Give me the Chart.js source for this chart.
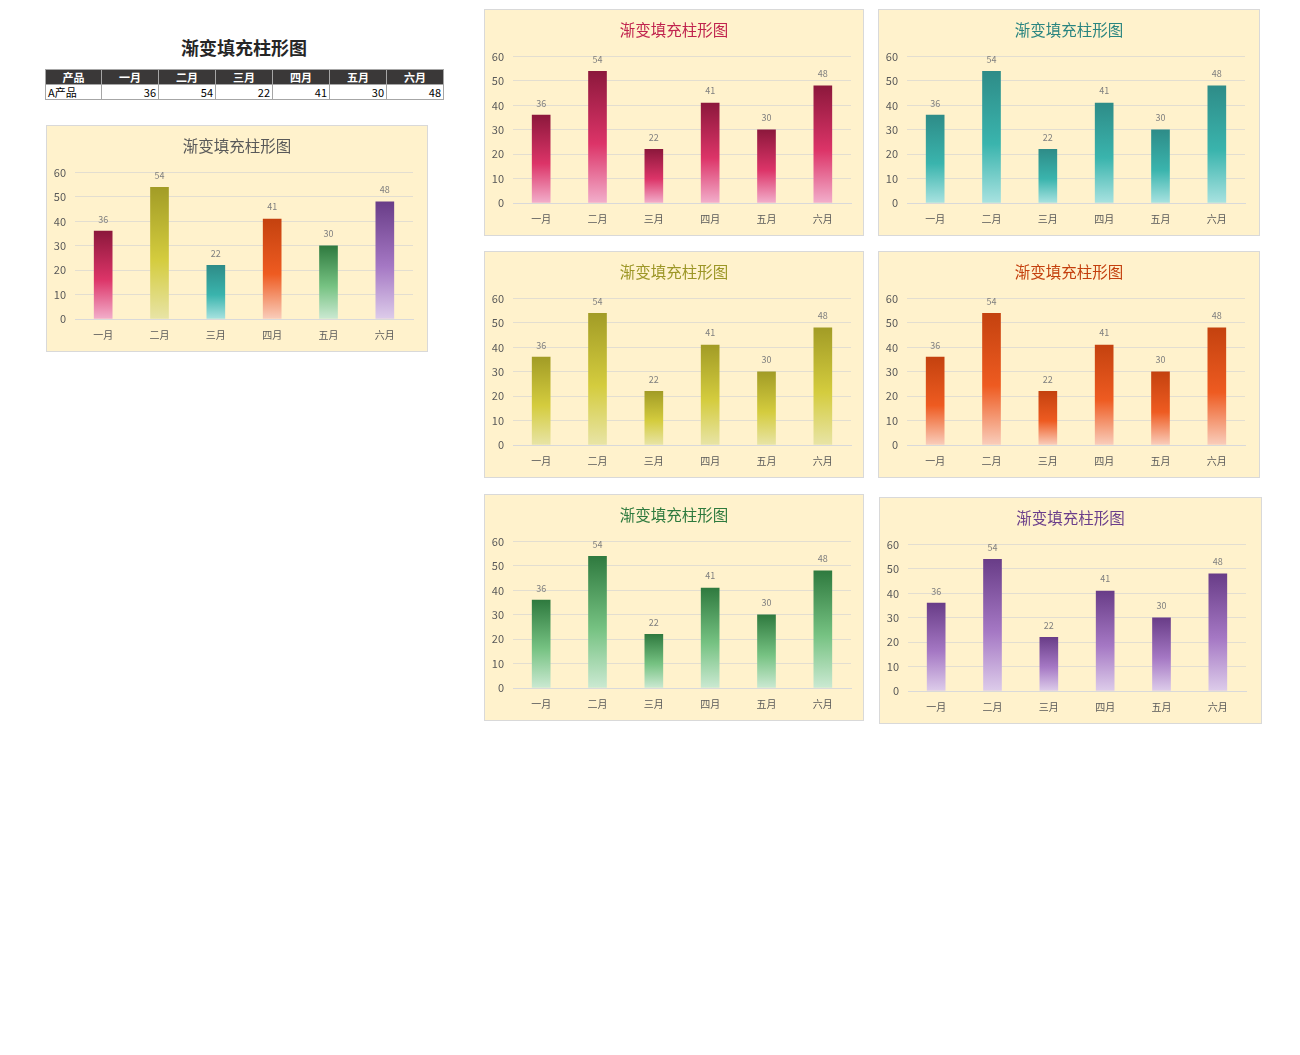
<!DOCTYPE html>
<html>
<head>
<meta charset="utf-8">
<script src="https://cdn.jsdelivr.net/npm/chart.js@4.4.0/dist/chart.umd.min.js"></script>
<style>
  body { margin: 0; background: #fff; font-family: "Noto Sans CJK SC", "Noto Sans", sans-serif; }
  #page { position: relative; width: 1300px; height: 1055px; }
  #mainTitle { position: absolute; left: 44px; width: 400px; top: 34px; text-align: center;
    font-size: 18px; font-weight: bold; color: #262626; }
  table { position: absolute; left: 45px; top: 69px; border-collapse: collapse; font-size: 11px;
    table-layout: fixed; width: 399px; }
  td, th { border: 1px solid #A6A6A6; height: 14px; padding: 0 2px; line-height: 14px; overflow: hidden; }
  th { background: #3A3838; color: #fff; font-weight: bold; text-align: center; }
  td { text-align: right; color: #000; }
  td.first { text-align: left; }
  .box { position: absolute; background: #FFF2CC; border: 1px solid #D9D9D9; }
  .box canvas { display: block; }
</style>
</head>
<body>
<div id="page">
  <div id="mainTitle">渐变填充柱形图</div>
  <table id="tbl"></table>
</div>
<script>
// data
const months = ["一月", "二月", "三月", "四月", "五月", "六月"];
const sales = [36, 54, 22, 41, 30, 48];
const rowName = "A产品";
const headName = "产品";
const chartTitle = "渐变填充柱形图";
const yTicks = [0, 10, 20, 30, 40, 50, 60];

// gradient themes: top, middle, bottom
const themes = {
  crimson: { title: "#C0234E", stops: ["#8C183C", "#DC3468", "#F2AECB"] },
  teal:    { title: "#2A8580", stops: ["#2E8C88", "#3AB4AD", "#A8E2E0"] },
  olive:   { title: "#9C9626", stops: ["#A29C26", "#D4CC3E", "#E8E4A6"] },
  orange:  { title: "#C4400E", stops: ["#C4420F", "#EE5B21", "#F9CDBB"] },
  green:   { title: "#2E7A3E", stops: ["#2F7A3F", "#76C282", "#CBE9D2"] },
  purple:  { title: "#6B3F8B", stops: ["#693D88", "#A578C4", "#DDCCEA"] }
};
const mixedOrder = ["crimson", "olive", "teal", "orange", "green", "purple"];

// table
const tbl = document.getElementById("tbl");
let html = "<colgroup><col style='width:56px'>";
months.forEach(() => html += "<col style='width:57px'>");
html += "</colgroup><tr><th>" + headName + "</th>";
months.forEach(m => html += "<th>" + m + "</th>");
html += "</tr><tr><td class='first'>" + rowName + "</td>";
sales.forEach(v => html += "<td>" + v + "</td>");
html += "</tr>";
tbl.innerHTML = html;

// boxes: left, top, width, height, theme (null = mixed)
const boxes = [
  [46, 125, 382, 227, null],
  [484, 9, 380, 227, "crimson"],
  [878, 9, 382, 227, "teal"],
  [484, 251, 380, 227, "olive"],
  [878, 251, 382, 227, "orange"],
  [484, 494, 380, 227, "green"],
  [879, 497, 383, 227, "purple"]
];

const valueLabels = {
  id: "valueLabels",
  afterDatasetsDraw(chart) {
    const c = chart.ctx;
    const meta = chart.getDatasetMeta(0);
    c.save();
    c.font = "9px 'Noto Sans CJK SC', sans-serif";
    c.fillStyle = "#7F7F7F";
    c.textAlign = "center";
    c.textBaseline = "middle";
    meta.data.forEach((bar, i) => {
      c.fillText(chart.data.datasets[0].data[i], bar.x, bar.y - 12);
    });
    c.restore();
  }
};

function makeGradient(ctx, stops) {
  const chart = ctx.chart;
  if (!chart.chartArea) return stops[1];
  const y = chart.scales.y;
  const top = y.getPixelForValue(ctx.raw);
  const bottom = y.getPixelForValue(0);
  const g = chart.ctx.createLinearGradient(0, top, 0, bottom);
  g.addColorStop(0, stops[0]);
  g.addColorStop(0.55, stops[1]);
  g.addColorStop(1, stops[2]);
  return g;
}

const page = document.getElementById("page");
boxes.forEach(b => {
  const div = document.createElement("div");
  div.className = "box";
  div.style.left = b[0] + "px";
  div.style.top = b[1] + "px";
  div.style.width = (b[2] - 2) + "px";
  div.style.height = (b[3] - 2) + "px";
  const cv = document.createElement("canvas");
  cv.width = b[2] - 2;
  cv.height = b[3] - 2;
  div.appendChild(cv);
  page.appendChild(div);

  const theme = b[4];
  const titleColor = theme ? themes[theme].title : "#595959";
  const side = cv.width - 366;

  new Chart(cv, {
    type: "bar",
    data: {
      labels: months,
      datasets: [{
        data: sales,
        barThickness: 18,
        backgroundColor: ctx => {
          const t = theme ? themes[theme] : themes[mixedOrder[ctx.dataIndex]];
          return makeGradient(ctx, t.stops);
        }
      }]
    },
    options: {
      responsive: false,
      animation: false,
      layout: { padding: 0 },
      scales: {
        x: {
          grid: { display: false, drawTicks: false },
          border: { display: true, color: "#D9D9D9" },
          ticks: { color: "#595959", font: { size: 10, family: "Noto Sans CJK SC" }, padding: 10 }
        },
        y: {
          min: 0,
          max: 60,
          afterBuildTicks: s => { s.ticks = yTicks.map(v => ({ value: v })); },
          afterFit: s => { s.width = 28; },
          grid: { color: "#E3DED0", drawTicks: false },
          border: { display: false },
          ticks: { color: "#595959", font: { size: 11, family: "Noto Sans CJK SC" }, padding: 9 }
        },
        // empty right-hand spacer so the title stays centred on the box
        spacer: {
          type: "linear",
          position: "right",
          grid: { display: false, drawTicks: false },
          border: { display: false },
          ticks: { display: false },
          afterFit: s => { s.width = side; }
        }
      },
      plugins: {
        legend: { display: false },
        tooltip: { enabled: false },
        title: {
          display: true,
          text: chartTitle,
          color: titleColor,
          font: { size: 15.5, weight: "normal", family: "Noto Sans CJK SC" },
          padding: { top: 11, bottom: 17 }
        }
      }
    },
    plugins: [valueLabels]
  });
});
</script>
</body>
</html>
